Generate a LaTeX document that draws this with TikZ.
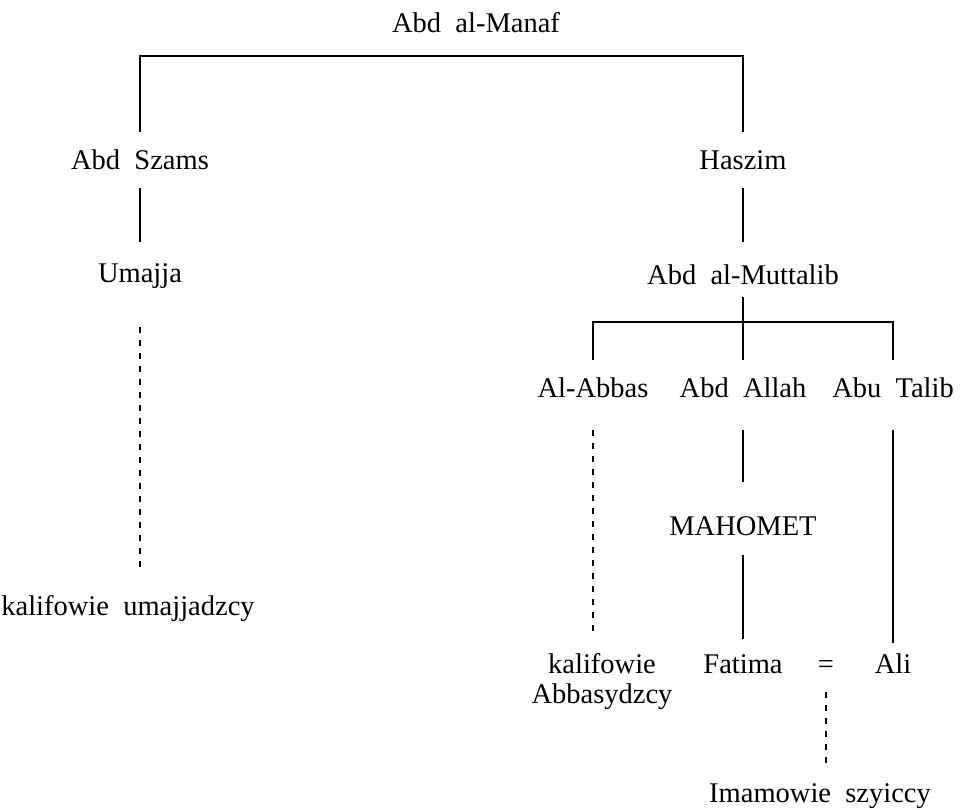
\documentclass[tikz,border=0pt]{standalone}
\usepackage{fontspec}
\setmainfont[WordSpace=2]{Liberation Serif}
\usetikzlibrary{positioning}

\begin{document}
\begin{tikzpicture}[x=1pt,y=-1pt,
  person/.style={inner sep=0pt, anchor=base, text height=20pt, text depth=7pt,
    font=\rmfamily\fontsize{28.5}{30}\selectfont},
  group/.style={inner sep=0pt, anchor=north, align=center,
    font=\rmfamily\fontsize{28.5}{30}\selectfont},
  link/.style={line width=2pt},
  dotlink/.style={line width=2pt, dash pattern=on 6pt off 7pt}]
\useasboundingbox (0,0) rectangle (962,810);
% generations
\node[person] (manaf) at (476,33) {Abd al-Manaf};
\node[person] (szams) at (140,170) {Abd Szams};
\node[person] (haszim) at (743,170) {Haszim};
\node[person] (umajja) at (140,283) {Umajja};
\node[person] (muttalib) at (743,285) {Abd al-Muttalib};
\node[person] (abbas) at (593,398) {Al-Abbas};
\node[person] (allah) at (743,398) {Abd Allah};
\node[person] (talib) at (893,398) {Abu Talib};
\node[person] (mahomet) at (743,535) {MAHOMET};
\node[person] (kalifU) at (128,615) {kalifowie umajjadzcy};
\node[group] (kalifA) at (602,653) {kalifowie\\Abbasydzcy};
\node[person] (fatima) at (743,673) {Fatima};
\node[person] (eq) at (826,673) {=};
\node[person] (ali) at (893,673) {Ali};
\node[person] (imam) at (820,802) {Imamowie szyiccy};
\coordinate (fork1) at (476,56);
\coordinate (fork2) at (743,322);
% lines
\draw[link, shorten <=18pt, shorten >=18pt] (szams.north) |- (fork1) -| (haszim.north);
\draw[link, shorten <=11pt, shorten >=21pt] (szams.south) -- (umajja.north);
\draw[link, shorten <=11pt, shorten >=23pt] (haszim.south) -- (muttalib.north);
\draw[link, shorten <=5pt, shorten >=18pt] (muttalib.south) -- (allah.north);
\draw[link, shorten <=18pt, shorten >=18pt] (abbas.north) |- (fork2) -| (talib.north);
\draw[dotlink, shorten <=37pt, shorten >=22pt] (umajja.south) -- (umajja.south |- kalifU.north);
\draw[dotlink, shorten <=25pt, shorten >=16pt] (abbas.south) -- (abbas.south |- kalifA.north);
\draw[link, shorten <=25pt, shorten >=33pt] (allah.south) -- (mahomet.north);
\draw[link, shorten <=13pt, shorten >=14pt] (mahomet.south) -- (fatima.north);
\draw[link, shorten <=25pt, shorten >=10pt] (talib.south) -- (ali.north);
\draw[dotlink, shorten <=12pt, shorten >=14pt] (eq.south) -- (eq.south |- imam.north);
\end{tikzpicture}
\end{document}
